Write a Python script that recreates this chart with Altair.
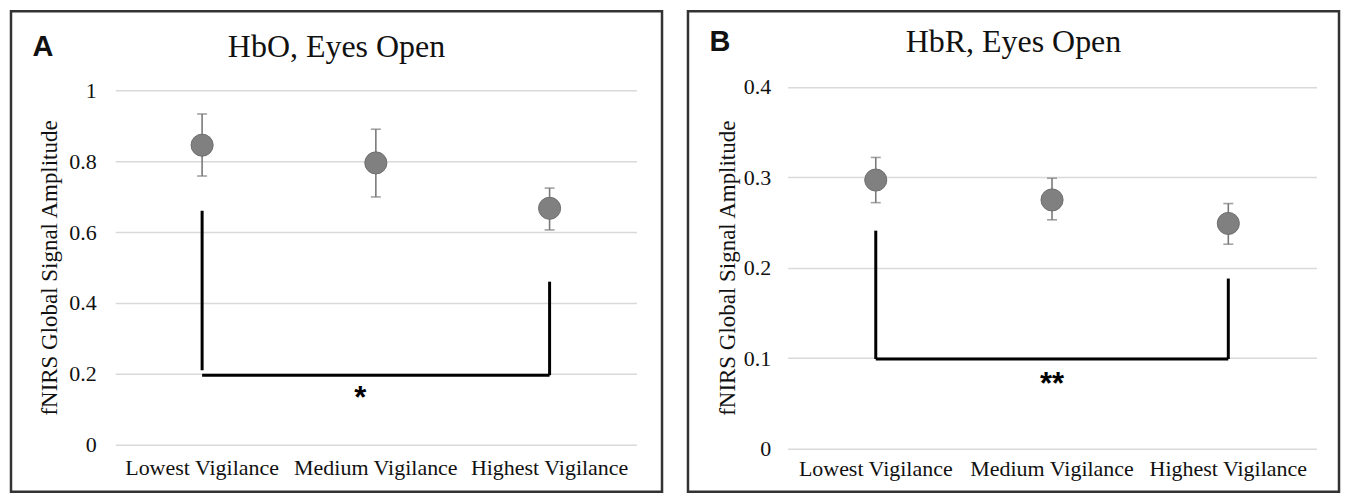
import altair as alt
import pandas as pd

# ---------------- data ----------------
categories = ["Lowest Vigilance", "Medium Vigilance", "Highest Vigilance"]

hbo_mean = [0.845, 0.795, 0.667]
hbo_upper = [0.933, 0.890, 0.724]
hbo_lower = [0.758, 0.699, 0.606]
hbo_ticks = [0, 0.2, 0.4, 0.6, 0.8, 1]

hbr_mean = [0.297, 0.275, 0.249]
hbr_upper = [0.322, 0.299, 0.271]
hbr_lower = [0.272, 0.253, 0.226]
hbr_ticks = [0, 0.1, 0.2, 0.3, 0.4]

# significance brackets (legs at Lowest and Highest, bar between them)
hbo_leg_cat = ["Lowest Vigilance", "Highest Vigilance"]
hbo_leg_lo = [0.21, 0.196]
hbo_leg_hi = [0.66, 0.46]
hbo_bar_y = [0.196]
hbo_sig = ["*"]
hbo_sig_y = [0.153]

hbr_leg_cat = ["Lowest Vigilance", "Highest Vigilance"]
hbr_leg_lo = [0.099, 0.099]
hbr_leg_hi = [0.241, 0.188]
hbr_bar_y = [0.099]
hbr_sig = ["**"]
hbr_sig_y = [0.08]

# ---------------- style ----------------
SERIF = "Liberation Serif"
SANS = "Liberation Sans"
TXT = "#111111"
EB = "#7a7a7a"
PT = "#808080"
W, H = 652, 481


def panel(letter, title, mean, upper, lower, ticks, leg_cat, leg_lo, leg_hi,
          bar_y, sig, sig_y, xr, yr, y_off, y_lab_pad, y_title_x,
          x_off, x_lab_pad, title_y, letter_xy, sig_dx):
    x_scale = alt.Scale(type="band", domain=categories, range=xr,
                        paddingInner=0, paddingOuter=0)
    y_scale = alt.Scale(domain=[0, ticks[-1]], range=yr, nice=False, zero=True)
    x_axis = alt.Axis(title=None, orient="bottom", offset=x_off, domain=False,
                      ticks=False, grid=False, labelPadding=x_lab_pad,
                      labelFont=SERIF, labelFontSize=22, labelColor=TXT,
                      labelBaseline="middle", labelAngle=0)
    y_axis = alt.Axis(title="fNIRS Global Signal Amplitude", values=ticks,
                      format="~g", offset=y_off, domain=False, ticks=False,
                      grid=True, gridColor="#d9d9d9", gridWidth=1.5,
                      labelPadding=y_lab_pad, labelFont=SERIF, labelFontSize=22,
                      labelColor=TXT, titleFont=SERIF, titleFontSize=23,
                      titleFontWeight="normal", titleColor=TXT,
                      titleX=y_title_x, titleBaseline="middle")

    def X(f):
        return alt.X(f, type="nominal", sort=categories, scale=x_scale, axis=x_axis)

    def Y(f):
        return alt.Y(f, type="quantitative", scale=y_scale, axis=y_axis)

    df = pd.DataFrame({"cat": categories, "mean": mean, "upper": upper, "lower": lower})
    legs = pd.DataFrame({"cat": leg_cat, "lo": leg_lo, "hi": leg_hi})
    bar = pd.DataFrame({"cat": [categories[0]], "cat2": [categories[-1]], "y": bar_y})
    star = pd.DataFrame({"cat": [categories[1]], "y": sig_y, "t": sig})
    lab = pd.DataFrame({"t": [letter]})
    ttl = pd.DataFrame({"t": [title]})

    err = alt.Chart(df).mark_rule(color=EB, strokeWidth=1.6).encode(
        x=X("cat"), y=Y("lower"), y2="upper:Q")
    cap_hi = alt.Chart(df).mark_tick(color=EB, size=10, thickness=1.6,
                                     orient="horizontal").encode(x=X("cat"), y=Y("upper"))
    cap_lo = alt.Chart(df).mark_tick(color=EB, size=10, thickness=1.6,
                                     orient="horizontal").encode(x=X("cat"), y=Y("lower"))
    pts = alt.Chart(df).mark_circle(size=490, color=PT, opacity=1, stroke="#6e6e6e",
                                    strokeWidth=1).encode(x=X("cat"), y=Y("mean"))
    leg_rules = alt.Chart(legs).mark_rule(color="black", strokeWidth=3).encode(
        x=X("cat"), y=Y("lo"), y2="hi:Q")
    bar_rule = alt.Chart(bar).mark_rule(color="black", strokeWidth=3).encode(
        x=X("cat"), x2="cat2:N", y=Y("y"))
    star_txt = alt.Chart(star).mark_text(font=SANS, fontWeight="bold", fontSize=31,
                                         color="black", dx=sig_dx, dy=9,
                                         baseline="middle").encode(
        x=X("cat"), y=Y("y"), text="t:N")
    letter_txt = alt.Chart(lab).mark_text(font=SANS, fontWeight="bold", fontSize=29,
                                          color=TXT, align="center",
                                          baseline="middle").encode(
        x=alt.value(letter_xy[0]), y=alt.value(letter_xy[1]), text="t:N")
    title_txt = alt.Chart(ttl).mark_text(font=SERIF, fontSize=32, color=TXT,
                                         align="center", baseline="middle").encode(
        x=alt.value(W / 2), y=alt.value(title_y), text="t:N")

    return alt.layer(err, cap_hi, cap_lo, pts, leg_rules, bar_rule, star_txt,
                     letter_txt, title_txt).properties(width=W, height=H)


A = panel("A", "HbO, Eyes Open", hbo_mean, hbo_upper, hbo_lower, hbo_ticks,
          hbo_leg_cat, hbo_leg_lo, hbo_leg_hi, hbo_bar_y, hbo_sig, hbo_sig_y,
          xr=[104.4, 626.4], yr=[434.0, 79.0], y_off=-104.4, y_lab_pad=19,
          y_title_x=-66, x_off=-47, x_lab_pad=22.7, title_y=36,
          letter_xy=(32, 36), sig_dx=-15.7)

B = panel("B", "HbR, Eyes Open", hbr_mean, hbr_upper, hbr_lower, hbr_ticks,
          hbr_leg_cat, hbr_leg_lo, hbr_leg_hi, hbr_bar_y, hbr_sig, hbr_sig_y,
          xr=[99.8, 629.4], yr=[437.8, 75.7], y_off=-99.8, y_lab_pad=17,
          y_title_x=-60, x_off=-43.2, x_lab_pad=19.8, title_y=31,
          letter_xy=(32, 31), sig_dx=0)

chart = alt.hconcat(A, B, spacing=22).properties(padding=1).configure_view(
    stroke="#333333", strokeWidth=2.5)

chart.save("out.html", embed_options={"renderer": "svg", "actions": False})
